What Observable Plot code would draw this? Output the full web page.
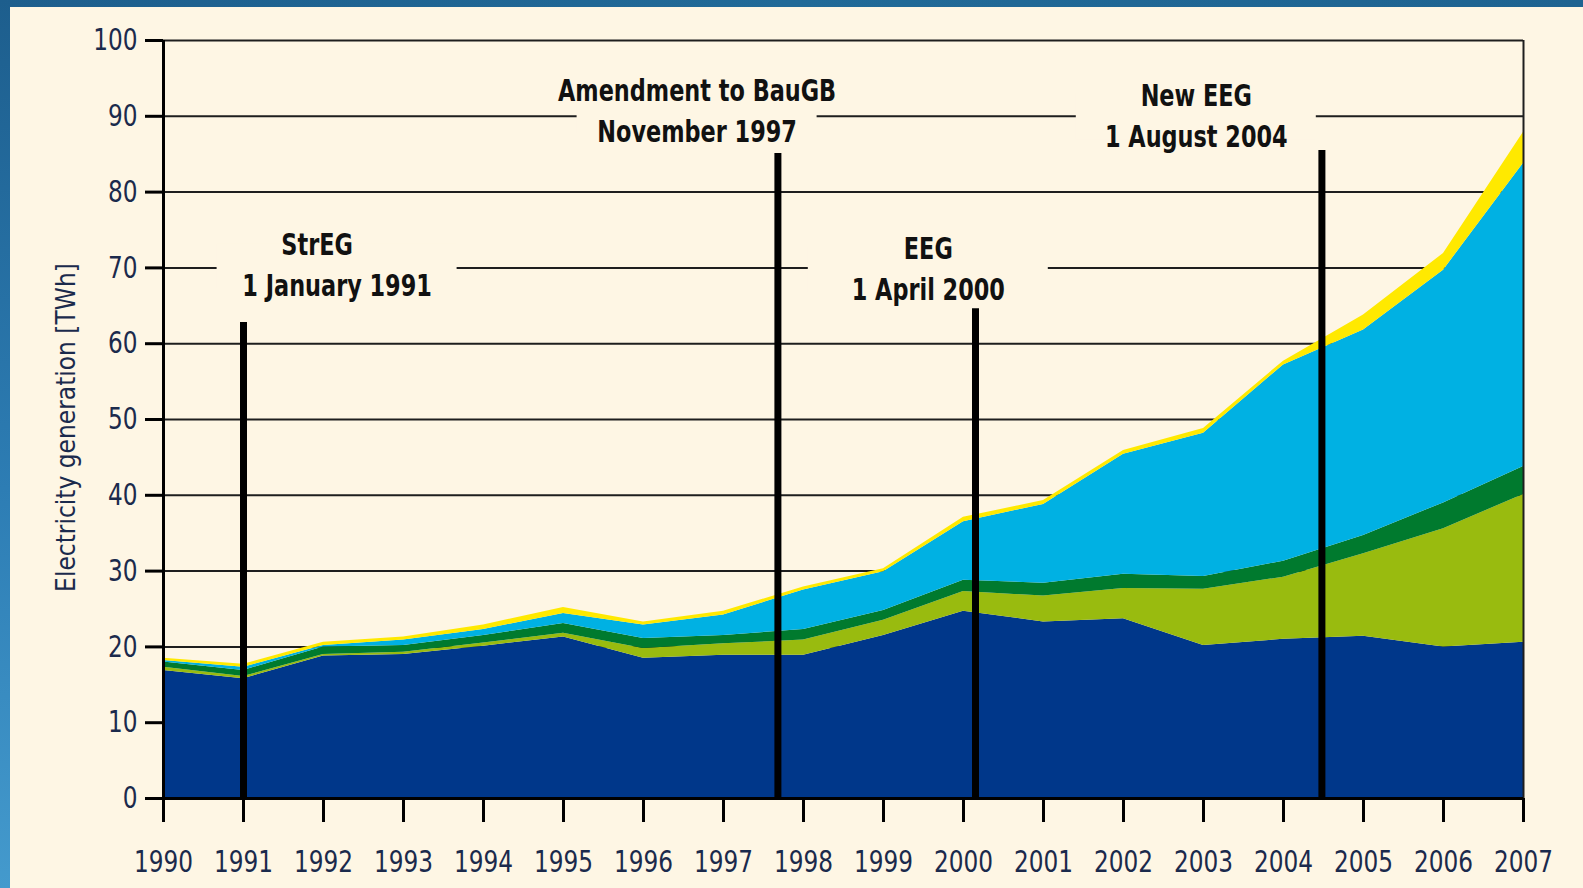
<!DOCTYPE html>
<html><head><meta charset="utf-8">
<script src="https://cdn.jsdelivr.net/npm/d3@7"></script>
<script src="https://cdn.jsdelivr.net/npm/@observablehq/plot@0.6"></script>
<style>
html,body{margin:0;padding:0;background:#fef6e4;}
#wrap{position:relative;width:1583px;height:888px;overflow:hidden;background:#fef6e4;}
#wrap svg{position:absolute;left:0;top:0;}
#topband{position:absolute;left:0;top:0;width:1583px;height:7px;background:linear-gradient(90deg,#1d5e8d,#216a98 50%,#1e6391);z-index:2;}
#leftband{position:absolute;left:0;top:0;width:10px;height:888px;background:linear-gradient(180deg,#1d5e8d,#2d7db4 55%,#449acd);z-index:2;}
</style></head>
<body><div id="wrap"><div id="topband"></div><div id="leftband"></div></div>
<script>
const years   = [1990,1991,1992,1993,1994,1995,1996,1997,1998,1999,2000,2001,2002,2003,2004,2005,2006,2007];
const hydro   = [16.9,15.8,18.8,19.0,20.1,21.3,18.5,18.9,18.9,21.5,24.7,23.3,23.7,20.2,21.0,21.4,20.0,20.6];
const biomass = [0.4,0.3,0.2,0.3,0.4,0.5,1.3,1.5,2.0,2.0,2.6,3.4,4.0,7.4,8.2,10.9,15.6,19.5];
const waste   = [0.7,0.8,1.0,0.9,1.0,1.3,1.3,1.1,1.4,1.3,1.5,1.7,1.9,1.7,2.1,2.4,3.4,3.7];
const wind    = [0.2,0.4,0.2,0.7,0.8,1.3,1.8,2.7,5.2,5.1,7.7,10.4,15.8,18.9,25.9,27.1,30.7,40.0];
const pv      = [0.3,0.4,0.4,0.4,0.6,0.8,0.4,0.5,0.4,0.4,0.6,0.5,0.5,0.6,0.5,2.0,2.2,4.1];

const seriesNames  = ["Hydropower","Biomass","Biogenic waste","Wind energy","Photovoltaics"];
const seriesValues = [hydro, biomass, waste, wind, pv];
const seriesColors = ["#00378a","#99bb0f","#007a2e","#00b1e3","#ffe900"];

const gridValues = [10,20,30,40,50,60,70,80,90,100];
const yTicks = [0,10,20,30,40,50,60,70,80,90,100];
const yLabel = "Electricity generation [TWh]";

const annotations = [
  {x: 1992.17, titleX: 1991.92, y: 70.2, title: "StrEG",              date: "1 January 1991"},
  {x: 1996.67, titleX: 1996.67, y: 90.6, title: "Amendment to BauGB", date: "November 1997"},
  {x: 1999.56, titleX: 1999.56, y: 69.7, title: "EEG",                date: "1 April 2000"},
  {x: 2002.91, titleX: 2002.91, y: 89.9, title: "New EEG",            date: "1 August 2004"}
];
const events = [
  {date: 1991.0,  top: 62.8},
  {date: 1997.68, top: 85.1},
  {date: 2000.15, top: 64.6},
  {date: 2004.48, top: 85.5}
];

const table = seriesNames.flatMap((s, i) => years.map((yr, j) => ({year: yr, value: seriesValues[i][j], source: s})));

const FONT = "'Liberation Sans Narrow','Arial Narrow','DejaVu Sans Condensed',sans-serif";
const NAVY = "#1b2a4c";
const CREAM = "#fef6e4";
const BOX_HALF_W = 1.5;   // half width of the label box, in years
const BOX_HALF_H = 3;     // half height of the label box, in TWh
const HALF_LINE = 20.5;   // half line spacing of annotation text, px

const chart = Plot.plot({
  width: 1583, height: 888,
  marginLeft: 163, marginRight: 60, marginTop: 40, marginBottom: 90,
  style: {background: "transparent", fontFamily: FONT, overflow: "visible"},
  x: {domain: [1990, 2007], axis: null},
  y: {domain: [0, 100], axis: null},
  color: {domain: seriesNames, range: seriesColors},
  marks: [
    Plot.ruleY(gridValues, {stroke: "#1e1e1e", strokeWidth: 2}),
    Plot.areaY(table, {x: "year", y: "value", fill: "source"}),
    Plot.ruleX([2007], {y1: 0, y2: 100, stroke: "#1e1e1e", strokeWidth: 2}),
    Plot.ruleY([0], {stroke: "black", strokeWidth: 3}),
    Plot.ruleX([1990], {y1: 0, y2: 100, stroke: "black", strokeWidth: 3}),
    Plot.axisY({ticks: yTicks, tickSize: 18, stroke: "black", strokeWidth: 3, fill: "none", label: null}),
    Plot.axisY({ticks: yTicks, tickSize: 0, tickPadding: 26, fontSize: 30, fill: NAVY, label: null}),
    Plot.axisX({ticks: years, tickSize: 24, stroke: "black", strokeWidth: 3, fill: "none", label: null, tickFormat: d => String(d)}),
    Plot.axisX({ticks: years, tickSize: 0, tickPadding: 52, fontSize: 30, fill: NAVY, label: null, tickFormat: d => String(d)}),
    Plot.text([yLabel], {frameAnchor: "left", text: d => d, rotate: -90, textAnchor: "middle", lineAnchor: "middle", dx: -97, dy: 8, fontSize: 26, fill: NAVY}),
    // cream box behind each annotation (interrupts the grid lines)
    Plot.rect(annotations, {x1: d => d.x - BOX_HALF_W, x2: d => d.x + BOX_HALF_W, y1: d => d.y - BOX_HALF_H, y2: d => d.y + BOX_HALF_H, fill: CREAM}),
    Plot.text(annotations, {x: "titleX", y: "y", text: "title", dy: -HALF_LINE, fontSize: 30, fontWeight: "bold", lineAnchor: "middle", textAnchor: "middle", fill: "#111"}),
    Plot.text(annotations, {x: "x", y: "y", text: "date", dy: HALF_LINE, fontSize: 30, fontWeight: "bold", lineAnchor: "middle", textAnchor: "middle", fill: "#111"}),
    Plot.ruleX(events, {x: "date", y1: 0, y2: "top", stroke: "black", strokeWidth: 7})
  ]
});

function condense(selection, k) {
  selection.each(function () {
    const t = this.getAttribute("transform");
    if (t) this.setAttribute("transform", t + ` scale(${k},1)`);
  });
}
const svg = d3.select(chart);
condense(svg.selectAll("g[aria-label$='tick label'] text"), 0.86);
condense(svg.selectAll("g[font-weight='bold'] text"), 0.83);
document.getElementById("wrap").prepend(chart);
</script>
</body></html>
